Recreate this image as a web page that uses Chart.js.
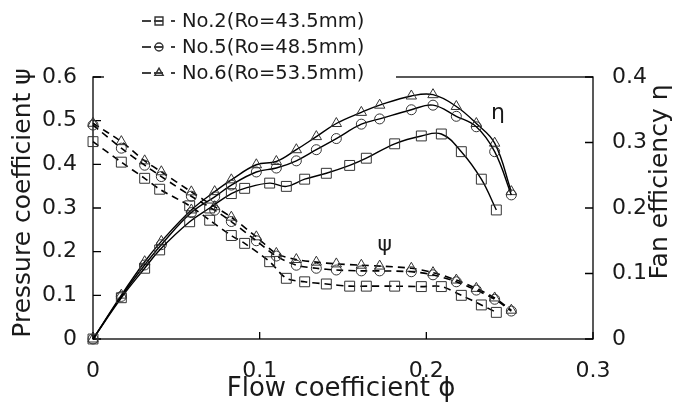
<!DOCTYPE html>
<html>
<head>
<meta charset="utf-8">
<script src="https://cdn.jsdelivr.net/npm/chart.js@4.4.1/dist/chart.umd.min.js"></script>
<style>
  body { margin: 0; background: #fff; }
  canvas { display: block; }
</style>
</head>
<body>
<canvas id="fanChart" width="673" height="414"></canvas>
<script>
// series names, shown in the legend
var seriesLabels = ["No.2(Ro=43.5mm)", "No.5(Ro=48.5mm)", "No.6(Ro=53.5mm)"];

// flow coefficient of each measured point
var phiNo2 = [0, 0.017, 0.031, 0.040, 0.058, 0.070, 0.083, 0.091, 0.106, 0.116, 0.127, 0.140, 0.154, 0.164, 0.181, 0.197, 0.209, 0.221, 0.233, 0.242];
var phiNo5 = [0, 0.017, 0.031, 0.041, 0.059, 0.073, 0.083, 0.098, 0.110, 0.122, 0.134, 0.146, 0.161, 0.172, 0.191, 0.204, 0.218, 0.230, 0.241, 0.251];
var phiNo6 = [0, 0.017, 0.031, 0.041, 0.059, 0.073, 0.083, 0.098, 0.110, 0.122, 0.134, 0.146, 0.161, 0.172, 0.191, 0.204, 0.218, 0.230, 0.241, 0.251];

// pressure coefficient psi (left axis)
var psiNo2 = [0.452, 0.405, 0.368, 0.343, 0.305, 0.272, 0.237, 0.219, 0.177, 0.139, 0.131, 0.126, 0.121, 0.121, 0.121, 0.120, 0.120, 0.100, 0.078, 0.061];
var psiNo5 = [0.490, 0.437, 0.398, 0.372, 0.327, 0.295, 0.269, 0.225, 0.190, 0.169, 0.162, 0.158, 0.156, 0.156, 0.154, 0.147, 0.131, 0.112, 0.091, 0.064];
var psiNo6 = [0.494, 0.452, 0.408, 0.383, 0.337, 0.303, 0.279, 0.234, 0.196, 0.182, 0.176, 0.172, 0.169, 0.167, 0.162, 0.152, 0.135, 0.116, 0.094, 0.066];

// fan efficiency eta (right axis)
var etaNo2 = [0, 0.063, 0.108, 0.136, 0.179, 0.200, 0.222, 0.230, 0.238, 0.233, 0.244, 0.253, 0.265, 0.276, 0.298, 0.310, 0.313, 0.286, 0.244, 0.197];
var etaNo5 = [0, 0.065, 0.113, 0.144, 0.193, 0.217, 0.235, 0.255, 0.261, 0.272, 0.289, 0.306, 0.328, 0.336, 0.350, 0.357, 0.340, 0.324, 0.286, 0.220];
var etaNo6 = [0, 0.067, 0.118, 0.149, 0.197, 0.225, 0.243, 0.266, 0.271, 0.289, 0.309, 0.329, 0.346, 0.357, 0.371, 0.373, 0.355, 0.329, 0.299, 0.225];

// axis ticks
var xTicks = [0, 0.1, 0.2, 0.3];
var psiTicks = [0, 0.1, 0.2, 0.3, 0.4, 0.5, 0.6];
var etaTicks = [0, 0.1, 0.2, 0.3, 0.4];

var xTitle = "Flow coefficient \u03D5";
var psiTitle = "Pressure coefficient \u03C8";
var etaTitle = "Fan efficiency \u03B7";

var FONT = "'DejaVu Sans', sans-serif";
var TEXT = "#1a1a1a";
var markers = ["rect", "circle", "triangle"];
var markerSize = [7, 5, 6];

function toPoints(xs, ys) {
  return xs.map(function (v, i) { return { x: v, y: ys[i] }; });
}

var phiList = [phiNo2, phiNo5, phiNo6];
var psiList = [psiNo2, psiNo5, psiNo6];
var etaList = [etaNo2, etaNo5, etaNo6];

var datasets = [];
for (var i = 0; i < 3; i++) {
  var common = {
    label: seriesLabels[i],
    borderColor: "#000",
    borderWidth: 1.4,
    pointStyle: markers[i],
    pointRadius: markerSize[i],
    pointBorderColor: "#333",
    pointBorderWidth: 1,
    pointBackgroundColor: "rgba(0,0,0,0)",
    fill: false,
    clip: false
  };
  datasets.push(Object.assign({}, common, {
    data: toPoints(phiList[i], psiList[i]),
    yAxisID: "y",
    borderDash: [7, 5],
    borderWidth: 1.6,
    tension: 0.3
  }));
  datasets.push(Object.assign({}, common, {
    data: toPoints(phiList[i], etaList[i]),
    yAxisID: "y2",
    tension: 0.4
  }));
}

function fixTicks(list) {
  return function (scale) {
    scale.ticks = list.map(function (v) { return { value: v }; });
  };
}

function fmt(v) {
  return String(+v.toFixed(1));
}

// frame with inward ticks, drawn under the data
var framePlugin = {
  id: "frame",
  beforeDatasetsDraw: function (chart) {
    var ctx = chart.ctx;
    var a = chart.chartArea;
    var sx = chart.scales.x, sy = chart.scales.y, sy2 = chart.scales.y2;
    ctx.save();
    ctx.strokeStyle = "#000";
    ctx.lineWidth = 1.3;
    ctx.strokeRect(a.left, a.top, a.right - a.left, a.bottom - a.top);
    ctx.beginPath();
    psiTicks.forEach(function (v) {
      var p = sy.getPixelForValue(v);
      ctx.moveTo(a.left, p); ctx.lineTo(a.left + 8, p);
    });
    etaTicks.forEach(function (v) {
      var p = sy2.getPixelForValue(v);
      ctx.moveTo(a.right, p); ctx.lineTo(a.right - 8, p);
    });
    xTicks.forEach(function (v) {
      var p = sx.getPixelForValue(v);
      ctx.moveTo(p, a.bottom); ctx.lineTo(p, a.bottom - 7);
    });
    ctx.stroke();
    ctx.restore();
  }
};

// axis titles, curve labels and the legend
var textPlugin = {
  id: "texts",
  afterDraw: function (chart) {
    var ctx = chart.ctx;
    var sx = chart.scales.x, sy = chart.scales.y, sy2 = chart.scales.y2;
    ctx.save();
    ctx.fillStyle = TEXT;
    ctx.textAlign = "center";
    ctx.textBaseline = "middle";
    ctx.font = "26px " + FONT;
    ctx.fillText(xTitle, 341, 389);

    ctx.font = "25px " + FONT;
    ctx.save();
    ctx.translate(23, 203);
    ctx.rotate(-Math.PI / 2);
    ctx.fillText(psiTitle, 0, 0);
    ctx.restore();

    ctx.save();
    ctx.translate(660, 182);
    ctx.rotate(-Math.PI / 2);
    ctx.fillText(etaTitle, 0, 0);
    ctx.restore();

    // curve group labels
    ctx.font = "22px " + FONT;
    ctx.fillText("\u03B7", sx.getPixelForValue(0.243), sy2.getPixelForValue(0.345));
    ctx.fillText("\u03C8", sx.getPixelForValue(0.175), sy.getPixelForValue(0.215));

    // legend box covers the top border
    ctx.fillStyle = "#fff";
    ctx.fillRect(104, 0, 292, 83);
    ctx.font = "19.5px " + FONT;
    ctx.textAlign = "left";
    for (var i = 0; i < seriesLabels.length; i++) {
      var ly = 21 + i * 26;
      ctx.strokeStyle = "#000";
      ctx.lineWidth = 1.4;
      ctx.setLineDash([9, 3, 9, 8, 4, 100]);
      ctx.beginPath();
      ctx.moveTo(142, ly); ctx.lineTo(176, ly);
      ctx.stroke();
      ctx.setLineDash([]);
      ctx.strokeStyle = "#333";
      ctx.fillStyle = "rgba(0,0,0,0)";
      Chart.helpers.drawPoint(ctx, {
        pointStyle: markers[i], radius: [5.6, 4, 4.8][i], borderWidth: 1, rotation: 0
      }, 159, ly);
      ctx.fillStyle = TEXT;
      ctx.fillText(seriesLabels[i], 182, ly + 1);
    }
    ctx.restore();
  }
};

var tickFont = { family: FONT, size: 22 };

new Chart(document.getElementById("fanChart"), {
  type: "line",
  data: { datasets: datasets },
  plugins: [framePlugin, textPlugin],
  options: {
    responsive: false,
    devicePixelRatio: 1,
    animation: false,
    events: [],
    layout: { padding: { top: 77, left: 0, right: 0, bottom: 0 } },
    plugins: { legend: { display: false }, tooltip: { enabled: false } },
    scales: {
      x: {
        type: "linear",
        min: 0,
        max: 0.3,
        afterBuildTicks: fixTicks(xTicks),
        afterFit: function (s) { s.height = 75; },
        grid: { display: false, drawTicks: false },
        border: { display: false },
        ticks: { padding: 19, color: TEXT, font: tickFont, callback: fmt }
      },
      y: {
        position: "left",
        min: 0,
        max: 0.6,
        afterBuildTicks: fixTicks(psiTicks),
        afterFit: function (s) { s.width = 93; },
        grid: { display: false, drawTicks: false },
        border: { display: false },
        ticks: { padding: 16, color: TEXT, font: tickFont, callback: fmt }
      },
      y2: {
        position: "right",
        min: 0,
        max: 0.4,
        afterBuildTicks: fixTicks(etaTicks),
        afterFit: function (s) { s.width = 80; },
        grid: { display: false, drawTicks: false },
        border: { display: false },
        ticks: { padding: 19, color: TEXT, font: tickFont, callback: fmt }
      }
    }
  }
});
</script>
</body>
</html>
